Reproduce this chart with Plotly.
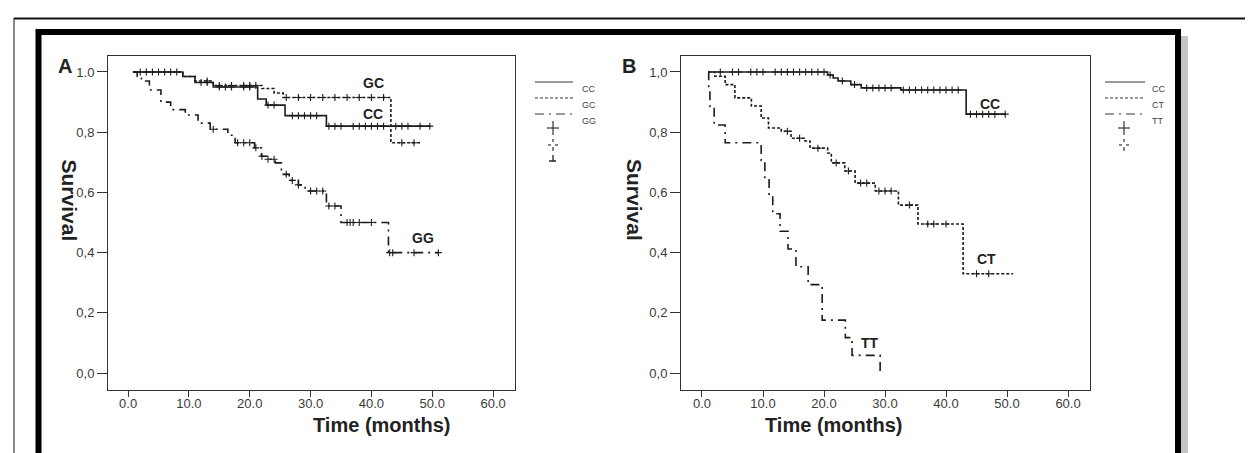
import numpy as np
import plotly.graph_objects as go

W, H = 1253, 453

# ---------------- data ----------------
# Panel A  (genotypes CC / GC / GG)
a_cc_t = [0.8, 9.0, 11.0, 14.0, 21.3, 22.7, 25.8, 32.6, 49.6]
a_cc_s = [1.0, 0.985, 0.965, 0.95, 0.91, 0.89, 0.855, 0.82, 0.82]
a_cc_cens = [3, 5, 7, 12, 13, 15, 16, 17, 19, 20, 23, 24, 27, 28, 29, 30, 31,
             33, 34, 35, 37, 38, 39, 40, 41, 42, 44, 45, 46, 48, 49.6]

a_gc_t = [0.8, 9.0, 11.0, 14.0, 22.0, 24.0, 25.5, 43.2, 48.0]
a_gc_s = [1.0, 0.985, 0.97, 0.955, 0.945, 0.93, 0.915, 0.765, 0.765]
a_gc_cens = [2, 4, 6, 8, 13, 15, 17, 19, 20, 21, 26, 28, 30, 32, 34, 36, 38,
             40, 42, 45, 47]

a_gg_t = [0.8, 1.5, 2.2, 3.5, 5.4, 7.0, 9.4, 11.5, 13.5, 16.4, 17.6, 20.8,
          21.9, 23.0, 24.2, 25.2, 26.5, 28.0, 29.1, 32.6, 35.0, 42.8, 51.0]
a_gg_s = [1.0, 0.985, 0.97, 0.94, 0.9, 0.875, 0.857, 0.83, 0.81, 0.79, 0.765,
          0.748, 0.72, 0.71, 0.698, 0.66, 0.64, 0.625, 0.605, 0.555, 0.5,
          0.4, 0.4]
a_gg_cens = [14, 18, 19, 20, 21, 22, 23, 24, 26, 27, 28, 30, 31, 32, 33, 34,
             36, 36.5, 37, 38, 40, 43, 43.5, 47, 51]

# Panel B  (genotypes CC / CT / TT)
b_cc_t = [1.0, 20.6, 21.5, 22.3, 24.4, 26.1, 32.6, 43.3, 49.7]
b_cc_s = [1.0, 0.99, 0.98, 0.97, 0.958, 0.947, 0.94, 0.86, 0.86]
b_cc_cens = [3, 5, 6, 8, 9, 10, 12, 13, 14, 15, 16, 17, 18, 19, 20, 21, 23,
             25, 27, 28, 29, 30, 31, 33, 34, 35, 36, 37, 38, 39, 40, 41, 42,
             44, 45, 46, 47, 48, 49.7]

b_ct_t = [1.0, 2.1, 3.8, 5.4, 8.1, 9.7, 10.9, 13.0, 14.6, 16.9, 17.7, 20.6,
          21.2, 23.4, 25.1, 28.4, 32.2, 35.4, 42.8, 51.0]
b_ct_s = [1.0, 0.986, 0.958, 0.914, 0.887, 0.847, 0.814, 0.803, 0.78, 0.771,
          0.747, 0.731, 0.698, 0.671, 0.631, 0.605, 0.558, 0.495, 0.33, 0.33]
b_ct_cens = [14, 16, 19, 22, 24, 26, 27, 29, 30, 31, 34, 37, 38, 40, 45, 47]

b_tt_t = [1.0, 1.1, 1.3, 2.0, 3.8, 9.7, 10.3, 11.0, 11.6, 12.8, 14.1, 15.4,
          17.4, 19.7, 23.5, 24.6, 29.2]
b_tt_s = [1.0, 0.941, 0.882, 0.824, 0.765, 0.706, 0.647, 0.588, 0.529, 0.471,
          0.412, 0.353, 0.294, 0.176, 0.118, 0.059, 0.0]

x_tickvals = [0, 10, 20, 30, 40, 50, 60]
x_ticktext = ["0.0", "10.0", "20.0", "30.0", "40.0", "50.0", "60.0"]
y_tickvals = [0, 0.2, 0.4, 0.6, 0.8, 1.0]
a_y_ticktext = ["0,0", "0,2", "0,4", "0,6", "0,8", "1.0"]
b_y_ticktext = ["0,0", "0,2", "0,4", "0,6", "0,8", "1,0"]

# ---------------- styles ----------------
INK = "#1c1c1c"
FONT = "Arial, Liberation Sans, sans-serif"
SOLID = "solid"
SHORT = "3px,2px"
LONG = "9px,5px,2px,5px"


def px(x):
    return x / W


def py(y):
    return 1 - y / H


def step_value(times, surv, t):
    idx = np.searchsorted(times, t, side="right") - 1
    return surv[max(idx, 0)]


fig = go.Figure()


def add_curve(times, surv, cens, dash, xa, ya):
    fig.add_trace(go.Scatter(
        x=times, y=surv, mode="lines", line_shape="hv",
        line=dict(color=INK, width=1.6, dash=dash),
        xaxis=xa, yaxis=ya, showlegend=False, hoverinfo="skip"))
    if cens:
        fig.add_trace(go.Scatter(
            x=cens, y=[step_value(times, surv, c) for c in cens],
            mode="markers",
            marker=dict(symbol="cross-thin", size=5,
                        line=dict(color=INK, width=1.1)),
            xaxis=xa, yaxis=ya, showlegend=False, hoverinfo="skip"))


add_curve(a_cc_t, a_cc_s, a_cc_cens, SOLID, "x", "y")
add_curve(a_gc_t, a_gc_s, a_gc_cens, SHORT, "x", "y")
add_curve(a_gg_t, a_gg_s, a_gg_cens, LONG, "x", "y")
add_curve(b_cc_t, b_cc_s, b_cc_cens, SOLID, "x2", "y2")
add_curve(b_ct_t, b_ct_s, b_ct_cens, SHORT, "x2", "y2")
add_curve(b_tt_t, b_tt_s, [], LONG, "x2", "y2")

axis_common = dict(showline=True, mirror=True, linecolor="#333", linewidth=1,
                   ticks="outside", tickcolor="#333", showgrid=False,
                   zeroline=False, tickfont=dict(family=FONT, size=13, color="#3a3a3a"))
x_extra = dict(ticklen=6, ticklabelstandoff=-5)

fig.update_layout(
    width=W, height=H, margin=dict(l=0, r=0, t=0, b=0),
    paper_bgcolor="white", plot_bgcolor="white",
    xaxis=dict(domain=[px(100), px(507)], range=[-3.3, 63.6], anchor="y",
               tickvals=x_tickvals, ticktext=x_ticktext, **x_extra, **axis_common),
    yaxis=dict(domain=[py(382), py(48)], range=[-0.056, 1.053], anchor="x",
               tickvals=y_tickvals, ticktext=a_y_ticktext, ticklen=10, **axis_common),
    xaxis2=dict(domain=[px(673), px(1082)], range=[-3.44, 63.6], anchor="y2",
                tickvals=x_tickvals, ticktext=x_ticktext, **x_extra, **axis_common),
    yaxis2=dict(domain=[py(382), py(48)], range=[-0.056, 1.053], anchor="x2",
                tickvals=y_tickvals, ticktext=b_y_ticktext, ticklen=10, **axis_common),
)

ann = []


def label(x, y, text, size, **kw):
    ann.append(dict(x=x, y=y, text=text, showarrow=False,
                    font=dict(family=FONT, size=size, color=kw.pop("color", "#222")),
                    **kw))


# panel letters and axis titles
label(px(48), py(45), "<b>A</b>", 20, xref="paper", yref="paper")
label(px(621), py(45), "<b>B</b>", 20, xref="paper", yref="paper")
for cx in (47, 626):
    label(px(cx), py(192), "<b>Survival</b>", 21, xref="paper", yref="paper",
          textangle=90)
label(px(303), py(430), "<b>Time (months)</b>", 20, xref="paper", yref="paper")
label(px(896), py(430), "<b>Time (months)</b>", 20, xref="paper", yref="paper")

# curve labels
label(40.3, 0.962, "<b>GC</b>", 14, xref="x", yref="y")
label(40.3, 0.862, "<b>CC</b>", 14, xref="x", yref="y")
label(48.5, 0.45, "<b>GG</b>", 14, xref="x", yref="y")
label(47.2, 0.895, "<b>CC</b>", 14, xref="x2", yref="y2")
label(46.6, 0.38, "<b>CT</b>", 14, xref="x2", yref="y2")
label(27.6, 0.10, "<b>TT</b>", 14, xref="x2", yref="y2")

shapes = []


def seg(x0, y0, x1, y1, dash="solid", width=1.2):
    shapes.append(dict(type="line", xref="paper", yref="paper",
                       x0=px(x0), x1=px(x1), y0=py(y0), y1=py(y1),
                       line=dict(color="#333", width=width, dash=dash)))


# legends
legend_sets = [
    (527, 565, 572, ["CC", "GC", "GG"], 3),
    (1097, 1137, 1142, ["CC", "CT", "TT"], 2),
]
for x0, x1, xt, names, nsym in legend_sets:
    for i, (name, dash) in enumerate(zip(names, [SOLID, SHORT, LONG])):
        yy = [74, 90, 106][i]
        seg(x0, yy, x1, yy, dash=dash, width=1)
        ann.append(dict(x=px(xt), y=py(yy), xref="paper", yref="paper",
                        text=name, showarrow=False, xanchor="left",
                        font=dict(family=FONT, size=9, color="#444")))
    cx = (x0 + x1) / 2 - 1
    # censor glyphs: solid plus, dashed plus, inverted T
    seg(cx - 6, 120, cx + 6, 120)
    seg(cx, 113, cx, 127)
    if nsym >= 2:
        seg(cx - 5, 137, cx - 2, 137)
        seg(cx + 2, 137, cx + 5, 137)
        seg(cx, 131, cx, 134)
        seg(cx, 139, cx, 143)
    if nsym >= 3:
        seg(cx - 4, 153, cx + 3, 153, width=1.6)
        seg(cx, 147, cx, 153, width=1.4)

# thin outer lines (top and left), shadow and thick frame
shapes.append(dict(type="line", xref="paper", yref="paper",
                   x0=px(6), x1=px(1253), y0=py(10.5), y1=py(10.5),
                   line=dict(color="#111", width=2)))
shapes.append(dict(type="line", xref="paper", yref="paper",
                   x0=px(6), x1=px(6), y0=py(10), y1=py(460),
                   line=dict(color="#111", width=1)))
shapes.append(dict(type="rect", xref="paper", yref="paper",
                   x0=px(1173), x1=px(1180), y0=py(470), y1=py(28),
                   line=dict(width=0), fillcolor="#c4c4c4"))
shapes.append(dict(type="rect", xref="paper", yref="paper",
                   x0=px(30.5), x1=px(1170), y0=py(450), y1=py(24),
                   line=dict(color="black", width=6)))

fig.update_layout(annotations=ann, shapes=shapes)

fig.write_html("out.html")
